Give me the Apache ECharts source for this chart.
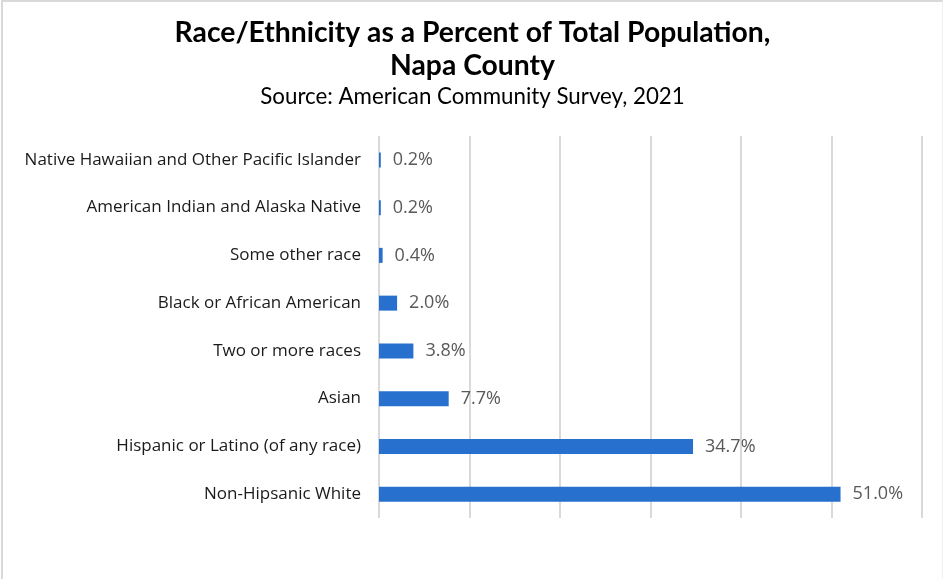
<!DOCTYPE html>
<html>
<head>
<meta charset="utf-8">
<script src="https://cdn.jsdelivr.net/npm/echarts@6/dist/echarts.min.js"></script>
<style>
  html, body { margin: 0; padding: 0; background: #fff; }
  #frame {
    position: absolute; left: 1px; top: 0; width: 942px; height: 579px;
    border-left: 2px solid #d9d9d9; border-top: 2px solid #d9d9d9;
    border-right: 1px solid #f0f0f0; box-sizing: border-box;
  }
  #chart { position: absolute; left: 0; top: 0; width: 945px; height: 579px; }
</style>
</head>
<body>
<div id="frame"></div>
<div id="chart"></div>
<script>
// Categories listed top to bottom
const categories = [
  'Native Hawaiian and Other Pacific Islander',
  'American Indian and Alaska Native',
  'Some other race',
  'Black or African American',
  'Two or more races',
  'Asian',
  'Hispanic or Latino (of any race)',
  'Non-Hipsanic White'
];
// Percent of total population
const percents = [0.2, 0.2, 0.4, 2.0, 3.8, 7.7, 34.7, 51.0];

const titleLines = ['Race/Ethnicity as a Percent of Total Population,', 'Napa County'];
const subtitle = 'Source: American Community Survey, 2021';

const chart = echarts.init(document.getElementById('chart'), null, { renderer: 'canvas' });

chart.setOption({
  backgroundColor: 'transparent',
  animation: false,
  title: [
    {
      text: titleLines.join('\n'),
      left: 'center',
      top: 11,
      textStyle: {
        fontFamily: 'Lato',
        fontWeight: 'bold',
        fontSize: 28.3,
        lineHeight: 33,
        color: '#000'
      }
    },
    {
      text: subtitle,
      left: 'center',
      top: 81,
      textStyle: {
        fontFamily: 'Lato',
        fontWeight: 'normal',
        fontSize: 22.3,
        color: '#000'
      }
    }
  ],
  grid: { left: 379, right: 23, top: 136, bottom: 61, containLabel: false },
  xAxis: {
    type: 'value',
    min: 0,
    max: 60,
    interval: 10,
    axisLabel: { show: false },
    axisLine: { show: false },
    axisTick: { show: false },
    splitLine: { show: true, lineStyle: { color: '#d9d9d9', width: 2 } }
  },
  yAxis: {
    type: 'category',
    data: categories,
    inverse: true,
    axisLine: { show: false },
    axisTick: { show: false },
    axisLabel: {
      margin: 18,
      fontFamily: 'Open Sans',
      fontSize: 17,
      color: '#1a1a1a'
    }
  },
  series: [{
    type: 'bar',
    data: percents,
    barWidth: 15,
    itemStyle: { color: '#2870CD' },
    label: {
      show: true,
      position: 'right',
      distance: 12,
      formatter: p => p.value.toFixed(1) + '%',
      fontFamily: 'Open Sans',
      fontSize: 18,
      color: '#595959'
    }
  }]
});
</script>
</body>
</html>
